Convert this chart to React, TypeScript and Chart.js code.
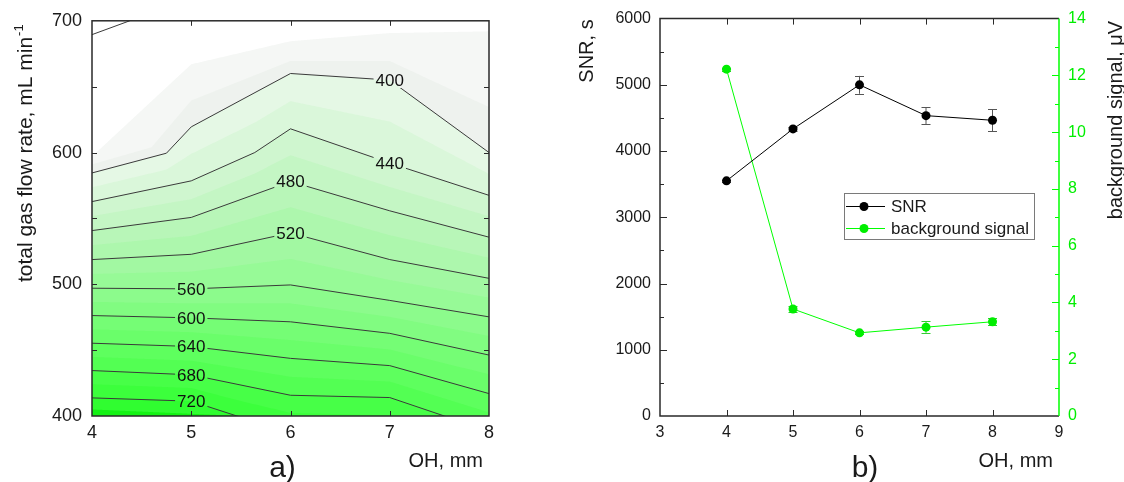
import React, { useEffect, useRef } from 'react';
import { Chart, registerables } from 'chart.js';

Chart.register(...registerables);

const FONT = '"Liberation Sans", Arial, Helvetica, sans-serif';
const TEXT = '#1a1a1a';
const GREEN = '#00ff00';

// ---------------- panel a) : contour map of SNR ----------------
const ohTicksA = [5, 6, 7];
const flowTicksInner = [450, 500, 550, 600, 650];

const c720X = [4, 5, 5.46, 6, 7, 8];
const c720Y = [413.75, 411.25, 400, 389, 387, 367];
const c680X = [4, 5, 6, 7, 7.55, 8];
const c680Y = [434.5, 431.25, 415.75, 414, 400, 388.5];
const c640X = [4, 5, 6, 7, 8];
const c640Y = [455.25, 452.75, 443.75, 438.25, 417];
const c600X = [4, 5, 6, 7, 8];
const c600Y = [476.25, 474.5, 471.5, 462.75, 446.25];
const c560X = [4, 5, 6, 7, 8];
const c560Y = [497, 496.5, 499.5, 487.75, 475.25];
const c520X = [4, 5, 6, 7, 8];
const c520Y = [518.75, 522.75, 539, 518.75, 504.5];
const c480X = [4, 5, 6, 7, 8];
const c480Y = [540.75, 550.75, 578, 555.75, 535.75];
const c440X = [4, 5, 5.64, 6, 7, 8];
const c440Y = [562.75, 578.5, 600, 618, 592, 567.5];
const c400X = [4, 4.75, 5, 6, 7, 8];
const c400Y = [584.5, 599.5, 619.5, 660, 655, 600];
const cTopX = [4, 4.38, 4.6];
const cTopY = [689.5, 700, 706];

// unlabelled shading boundaries
const s740X = [4, 5.5, 6];
const s740Y = [405, 400, 398];
const s380X = [4, 4.6, 5, 6, 7, 8];
const s380Y = [591, 604, 639.5, 669.5, 669.5, 634.5];
const s360X = [4, 5, 6, 7, 8];
const s360Y = [597, 667, 684.5, 690.7, 692];

const contourLevels = [720, 680, 640, 600, 560, 520, 480, 440, 400];
const contourXs = [c720X, c680X, c640X, c600X, c560X, c520X, c480X, c440X, c400X];
const contourYs = [c720Y, c680Y, c640Y, c600Y, c560Y, c520Y, c480Y, c440Y, c400Y];
const contourLabelOH = [5, 5, 5, 5, 5, 6, 6, 7, 7];

// colours of the 20-unit shading bands, lowest value first
const bandColors = [
  '#ffffff', '#f5f7f5', '#eef2ee', '#e5f8e5', '#daf7da', '#cff6cf', '#c4f6c4',
  '#b8f6b8', '#adf7ad', '#a2f8a2', '#97fa97', '#8cfb8c', '#81fc81', '#75fd75',
  '#6afe6a', '#5eff5e', '#53ff53', '#47ff47', '#3cff3c', '#30fd30', '#14f214',
];

// ---------------- panel b) ----------------
const ohB = [4, 5, 6, 7, 8];
const snr = [3550, 4335, 5000, 4535, 4465];
const snrErr = [20, 35, 135, 130, 165];
const bgSignal = [12.22, 3.77, 2.93, 3.13, 3.32];
const bgErr = [0.05, 0.1, 0.05, 0.2, 0.12];
const snrMinor = [500, 1500, 2500, 3500, 4500, 5500];
const snrMajor = [1000, 2000, 3000, 4000, 5000];
const bgMinor = [1, 3, 5, 7, 9, 11, 13];
const bgMajor = [2, 4, 6, 8, 10, 12];
const ohTicksB = [4, 5, 6, 7, 8];

function evalLine(xs: number[], ys: number[], x: number) {
  const n = xs.length;
  let i = 0;
  if (x <= xs[0]) i = 0;
  else if (x >= xs[n - 1]) i = n - 2;
  else {
    while (i < n - 2 && x > xs[i + 1]) i++;
  }
  const t = (x - xs[i]) / (xs[i + 1] - xs[i]);
  return ys[i] + t * (ys[i + 1] - ys[i]);
}

type Fn = (x: number) => number;
const lineFn = (xs: number[], ys: number[]): Fn => (x) => evalLine(xs, ys, x);

function font(size: number) {
  return `${size}px ${FONT}`;
}

const contourPlugin = {
  id: 'contourPlugin',
  beforeDatasetsDraw(chart: any) {
    const { ctx, chartArea: ca, scales } = chart;
    const xs = scales.x;
    const ys = scales.y;
    const L = contourLevels.map((_, i) => lineFn(contourXs[i], contourYs[i]));
    // L[0]=720 ... L[8]=400
    const mid = (a: Fn, b: Fn): Fn => (x) => (a(x) + b(x)) / 2;
    const bounds: Fn[] = [
      lineFn(s360X, s360Y),
      lineFn(s380X, s380Y),
      L[8],
      mid(L[8], L[7]),
      L[7],
      mid(L[7], L[6]),
      L[6],
      mid(L[6], L[5]),
      L[5],
      mid(L[5], L[4]),
      L[4],
      mid(L[4], L[3]),
      L[3],
      mid(L[3], L[2]),
      L[2],
      mid(L[2], L[1]),
      L[1],
      mid(L[1], L[0]),
      L[0],
      lineFn(s740X, s740Y),
    ];
    ctx.save();
    ctx.beginPath();
    ctx.rect(ca.left, ca.top, ca.width, ca.height);
    ctx.clip();
    ctx.fillStyle = bandColors[0];
    ctx.fillRect(ca.left, ca.top, ca.width, ca.height);
    bounds.forEach((f, k) => {
      ctx.beginPath();
      for (let j = 0; j <= 400; j++) {
        const xv = 4 + j * 0.01;
        const px = xs.getPixelForValue(xv);
        const py = ys.getPixelForValue(f(xv));
        if (j === 0) ctx.moveTo(px - 1, py);
        else ctx.lineTo(px, py);
      }
      ctx.lineTo(ca.right + 2, ys.getPixelForValue(f(8)));
      ctx.lineTo(ca.right + 2, ca.bottom + 3);
      ctx.lineTo(ca.left - 2, ca.bottom + 3);
      ctx.closePath();
      ctx.fillStyle = bandColors[k + 1];
      ctx.fill();
    });
    ctx.restore();

    // clip out label boxes so the contour lines are broken behind labels
    ctx.save();
    ctx.font = font(17);
    ctx.beginPath();
    ctx.rect(0, 0, chart.width, chart.height);
    contourLevels.forEach((lev, i) => {
      const xv = contourLabelOH[i];
      const px = xs.getPixelForValue(xv);
      const py = ys.getPixelForValue(evalLine(contourXs[i], contourYs[i], xv));
      const w = ctx.measureText(String(lev)).width + 4;
      ctx.rect(px - w / 2, py - 8, w, 16);
    });
    ctx.clip('evenodd');
  },
  afterDatasetsDraw(chart: any) {
    const { ctx, scales } = chart;
    ctx.restore();
    const xs = scales.x;
    const ys = scales.y;
    ctx.save();
    ctx.font = font(17);
    ctx.fillStyle = '#111';
    ctx.textAlign = 'center';
    ctx.textBaseline = 'middle';
    contourLevels.forEach((lev, i) => {
      const xv = contourLabelOH[i];
      const px = xs.getPixelForValue(xv);
      const py = ys.getPixelForValue(evalLine(contourXs[i], contourYs[i], xv));
      ctx.fillText(String(lev), px, py + 1);
    });
    ctx.restore();
  },
  afterDraw(chart: any) {
    const { ctx, chartArea: ca, scales } = chart;
    const xs = scales.x;
    const ys = scales.y;
    ctx.save();
    ctx.strokeStyle = '#2a2a2a';
    ctx.lineWidth = 1;
    const tl = 5;
    ctx.beginPath();
    ohTicksA.forEach((v) => {
      const px = Math.round(xs.getPixelForValue(v)) + 0.5;
      ctx.moveTo(px, ca.bottom);
      ctx.lineTo(px, ca.bottom - tl);
      ctx.moveTo(px, ca.top);
      ctx.lineTo(px, ca.top + tl);
    });
    flowTicksInner.forEach((v) => {
      const py = Math.round(ys.getPixelForValue(v)) + 0.5;
      ctx.moveTo(ca.left, py);
      ctx.lineTo(ca.left + tl, py);
      ctx.moveTo(ca.right, py);
      ctx.lineTo(ca.right - tl, py);
    });
    ctx.stroke();
    ctx.lineWidth = 1.5;
    ctx.strokeRect(ca.left, ca.top, ca.width, ca.height);

    // titles
    ctx.fillStyle = TEXT;
    ctx.font = font(20);
    ctx.textAlign = 'right';
    ctx.textBaseline = 'alphabetic';
    ctx.fillText('OH, mm', ca.right - 6, 467);
    ctx.font = font(30);
    ctx.textAlign = 'center';
    ctx.fillText('a)', (ca.left + ca.right) / 2 - 8, 477);

    ctx.save();
    ctx.translate(32, 282);
    ctx.rotate(-Math.PI / 2);
    ctx.textAlign = 'left';
    ctx.font = font(21);
    const main = 'total gas flow rate, mL min';
    ctx.fillText(main, 0, 0);
    const w = ctx.measureText(main).width;
    ctx.font = font(13);
    ctx.fillText('-1', w + 1, -9);
    ctx.restore();
    ctx.restore();
  },
};

const bPlugin = {
  id: 'bPlugin',
  beforeDatasetsDraw(chart: any) {
    const { ctx, scales } = chart;
    const xs = scales.x;
    const y = scales.y;
    const y2 = scales.y2;
    ctx.save();
    ctx.lineWidth = 1;
    const cap = 4.5;
    const drawBars = (vals: number[], errs: number[], sc: any, color: string) => {
      ctx.strokeStyle = color;
      ctx.beginPath();
      ohB.forEach((xv, i) => {
        const px = xs.getPixelForValue(xv);
        const top = sc.getPixelForValue(vals[i] + errs[i]);
        const bot = sc.getPixelForValue(vals[i] - errs[i]);
        ctx.moveTo(px, top);
        ctx.lineTo(px, bot);
        ctx.moveTo(px - cap, Math.round(top) + 0.5);
        ctx.lineTo(px + cap, Math.round(top) + 0.5);
        ctx.moveTo(px - cap, Math.round(bot) + 0.5);
        ctx.lineTo(px + cap, Math.round(bot) + 0.5);
      });
      ctx.stroke();
    };
    drawBars(snr, snrErr, y, '#555555');
    drawBars(bgSignal, bgErr, y2, '#33cc33');
    ctx.restore();
  },
  afterDraw(chart: any) {
    const { ctx, chartArea: ca, scales } = chart;
    const xs = scales.x;
    const y = scales.y;
    const y2 = scales.y2;
    ctx.save();
    ctx.lineWidth = 1;
    ctx.strokeStyle = '#2a2a2a';
    ctx.beginPath();
    ohTicksB.forEach((v) => {
      const px = Math.round(xs.getPixelForValue(v)) + 0.5;
      ctx.moveTo(px, ca.bottom);
      ctx.lineTo(px, ca.bottom - 6);
      ctx.moveTo(px, ca.top);
      ctx.lineTo(px, ca.top + 6);
    });
    snrMajor.forEach((v) => {
      const py = Math.round(y.getPixelForValue(v)) + 0.5;
      ctx.moveTo(ca.left, py);
      ctx.lineTo(ca.left + 7, py);
    });
    snrMinor.forEach((v) => {
      const py = Math.round(y.getPixelForValue(v)) + 0.5;
      ctx.moveTo(ca.left, py);
      ctx.lineTo(ca.left + 4, py);
    });
    ctx.stroke();
    ctx.lineWidth = 1.5;
    ctx.beginPath();
    ctx.moveTo(ca.right, ca.top);
    ctx.lineTo(ca.left, ca.top);
    ctx.lineTo(ca.left, ca.bottom);
    ctx.lineTo(ca.right, ca.bottom);
    ctx.stroke();

    ctx.strokeStyle = GREEN;
    ctx.lineWidth = 1;
    ctx.beginPath();
    bgMajor.forEach((v) => {
      const py = Math.round(y2.getPixelForValue(v)) + 0.5;
      ctx.moveTo(ca.right, py);
      ctx.lineTo(ca.right - 7, py);
    });
    bgMinor.forEach((v) => {
      const py = Math.round(y2.getPixelForValue(v)) + 0.5;
      ctx.moveTo(ca.right, py);
      ctx.lineTo(ca.right - 4, py);
    });
    ctx.stroke();
    ctx.lineWidth = 1.5;
    ctx.beginPath();
    ctx.moveTo(ca.right, ca.top);
    ctx.lineTo(ca.right, ca.bottom);
    ctx.stroke();

    // legend
    const lx = ca.left + 184;
    const ly = 193;
    const lw = 190;
    const lh = 46;
    ctx.fillStyle = '#ffffff';
    ctx.fillRect(lx, ly, lw, lh);
    ctx.strokeStyle = '#7a7a7a';
    ctx.lineWidth = 1;
    ctx.strokeRect(lx + 0.5, ly + 0.5, lw, lh);
    chart.data.datasets.forEach((ds: any, i: number) => {
      const cy = ly + 13 + i * 22;
      ctx.strokeStyle = ds.borderColor;
      ctx.lineWidth = 1;
      ctx.beginPath();
      ctx.moveTo(lx + 2, cy + 0.5);
      ctx.lineTo(lx + 41, cy + 0.5);
      ctx.stroke();
      ctx.fillStyle = ds.pointBackgroundColor;
      ctx.beginPath();
      ctx.arc(lx + 20, cy + 0.5, 4.5, 0, Math.PI * 2);
      ctx.fill();
      ctx.fillStyle = TEXT;
      ctx.font = font(17);
      ctx.textAlign = 'left';
      ctx.textBaseline = 'middle';
      ctx.fillText(ds.label, lx + 47, cy + 1);
    });

    // titles
    ctx.fillStyle = TEXT;
    ctx.font = font(20);
    ctx.textAlign = 'right';
    ctx.textBaseline = 'alphabetic';
    ctx.fillText('OH, mm', ca.right - 6, 467);
    ctx.font = font(30);
    ctx.textAlign = 'center';
    ctx.fillText('b)', 865 - 560, 477);

    ctx.save();
    ctx.translate(33, 51);
    ctx.rotate(-Math.PI / 2);
    ctx.font = font(20);
    ctx.textAlign = 'center';
    ctx.fillText('SNR, s', 0, 0);
    ctx.restore();

    ctx.save();
    ctx.translate(1122 - 560, 120);
    ctx.rotate(-Math.PI / 2);
    ctx.font = font(20);
    ctx.textAlign = 'center';
    ctx.fillText('background signal, \u03bcV', 0, 0);
    ctx.restore();

    ctx.restore();
  },
};

function tickFmt(v: any) {
  return String(v);
}

function configA(): any {
  const datasets: any[] = contourLevels.map((lev, i) => ({
    label: String(lev),
    data: contourXs[i].map((x, j) => ({ x, y: contourYs[i][j] })),
    showLine: true,
    borderColor: '#3a3a3a',
    borderWidth: 1,
    pointRadius: 0,
    tension: 0,
    fill: false,
  }));
  datasets.push({
    label: 'top',
    data: cTopX.map((x, j) => ({ x, y: cTopY[j] })),
    showLine: true,
    borderColor: '#3a3a3a',
    borderWidth: 1,
    pointRadius: 0,
    tension: 0,
    fill: false,
  });
  return {
    type: 'scatter',
    data: { datasets },
    options: {
      animation: false,
      responsive: false,
      devicePixelRatio: 1,
      events: [],
      layout: { padding: { top: 16, right: 71, left: 0, bottom: 0 } },
      plugins: { legend: { display: false }, tooltip: { enabled: false } },
      scales: {
        x: {
          type: 'linear',
          min: 4,
          max: 8,
          ticks: { stepSize: 1, font: { family: FONT, size: 18 }, color: TEXT, padding: 6, callback: tickFmt },
          grid: { display: false, drawTicks: false },
          border: { display: false },
          afterFit: (s: any) => {
            s.height = 66;
          },
        },
        y: {
          type: 'linear',
          min: 400,
          max: 700,
          ticks: { stepSize: 100, font: { family: FONT, size: 18 }, color: TEXT, padding: 10, callback: tickFmt },
          grid: { display: false, drawTicks: false },
          border: { display: false },
          afterFit: (s: any) => {
            s.width = 92;
          },
        },
      },
    },
    plugins: [contourPlugin],
  };
}

function configB(): any {
  return {
    type: 'line',
    data: {
      datasets: [
        {
          label: 'SNR',
          data: ohB.map((x, i) => ({ x, y: snr[i] })),
          yAxisID: 'y',
          borderColor: '#000000',
          backgroundColor: '#000000',
          pointBackgroundColor: '#000000',
          borderWidth: 1,
          pointRadius: 4.5,
          pointBorderWidth: 0,
          tension: 0,
          fill: false,
        },
        {
          label: 'background signal',
          data: ohB.map((x, i) => ({ x, y: bgSignal[i] })),
          yAxisID: 'y2',
          borderColor: GREEN,
          backgroundColor: GREEN,
          pointBackgroundColor: '#00ee00',
          borderWidth: 1,
          pointRadius: 4.5,
          pointBorderWidth: 0,
          tension: 0,
          fill: false,
        },
      ],
    },
    options: {
      animation: false,
      responsive: false,
      devicePixelRatio: 1,
      events: [],
      layout: { padding: { top: 16, right: 0, left: 0, bottom: 0 } },
      plugins: { legend: { display: false }, tooltip: { enabled: false } },
      scales: {
        x: {
          type: 'linear',
          min: 3,
          max: 9,
          ticks: { stepSize: 1, font: { family: FONT, size: 16 }, color: TEXT, padding: 7, callback: tickFmt },
          grid: { display: false, drawTicks: false },
          border: { display: false },
          afterFit: (s: any) => {
            s.height = 66;
          },
        },
        y: {
          type: 'linear',
          position: 'left',
          min: 0,
          max: 6000,
          ticks: { stepSize: 1000, font: { family: FONT, size: 16 }, color: TEXT, padding: 9, callback: tickFmt },
          grid: { display: false, drawTicks: false },
          border: { display: false },
          afterFit: (s: any) => {
            s.width = 100;
          },
        },
        y2: {
          type: 'linear',
          position: 'right',
          min: 0,
          max: 14,
          ticks: { stepSize: 2, font: { family: FONT, size: 16 }, color: '#00ee00', padding: 9, callback: tickFmt },
          grid: { display: false, drawTicks: false },
          border: { display: false },
          afterFit: (s: any) => {
            s.width = 65;
          },
        },
      },
    },
    plugins: [bPlugin],
  };
}

export default function App() {
  const aRef = useRef<HTMLCanvasElement>(null);
  const bRef = useRef<HTMLCanvasElement>(null);
  useEffect(() => {
    const ca = new Chart(aRef.current as HTMLCanvasElement, configA());
    const cb = new Chart(bRef.current as HTMLCanvasElement, configB());
    return () => {
      ca.destroy();
      cb.destroy();
    };
  }, []);
  return (
    <div style={{ position: 'fixed', left: 0, top: 0, width: 1124, height: 482, background: '#ffffff', overflow: 'hidden' }}>
      <canvas ref={aRef} width={560} height={482} style={{ position: 'absolute', left: 0, top: 0, width: 560, height: 482 }} />
      <canvas ref={bRef} width={564} height={482} style={{ position: 'absolute', left: 560, top: 0, width: 564, height: 482 }} />
    </div>
  );
}
